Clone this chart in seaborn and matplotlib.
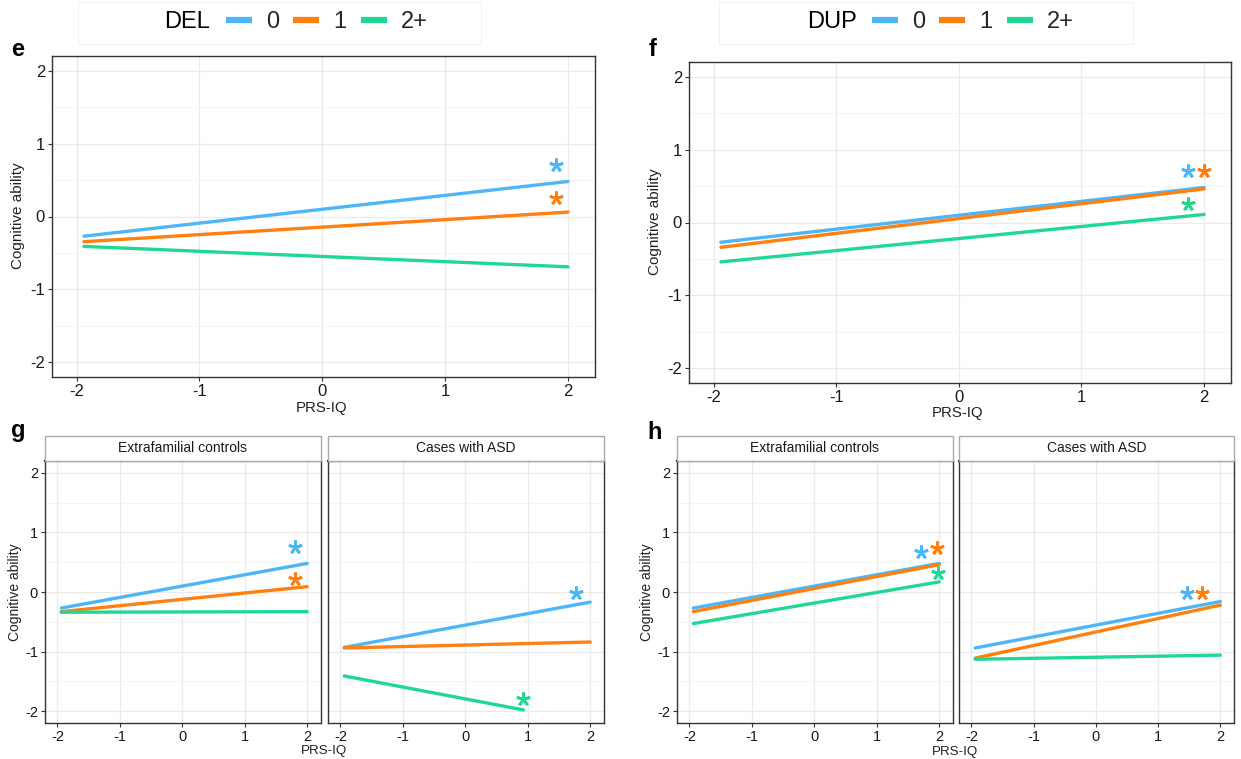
import matplotlib
matplotlib.use("Agg")
import numpy as np
import pandas as pd
import seaborn as sns
import matplotlib.pyplot as plt
from matplotlib.lines import Line2D
from matplotlib.patches import Rectangle

sns.set_theme(style="white")
plt.rcParams["font.family"] = ["Liberation Sans", "DejaVu Sans"]
plt.rcParams["axes.unicode_minus"] = False

# ---------------- data ----------------
groups = ["0", "1", "2+"]
colors = ["#4DB6F7", "#FF7F0F", "#1FD892"]
ticks = [-2, -1, 0, 1, 2]
tick_labels = ["-2", "-1", "0", "1", "2"]

x_start = [-1.94, -1.94, -1.94]
x_end = [2.0, 2.0, 2.0]

# panel e (DEL)
e_y0 = [-0.27, -0.345, -0.41]
e_y1 = [0.48, 0.06, -0.69]
e_star_grp = ["0", "1"]
e_star_x = [1.90, 1.90]
e_star_y = [0.70, 0.26]

# panel f (DUP)
f_y0 = [-0.27, -0.34, -0.54]
f_y1 = [0.48, 0.46, 0.11]
f_star_grp = ["0", "1", "2+"]
f_star_x = [1.87, 2.0, 1.87]
f_star_y = [0.71, 0.71, 0.26]

# panel g (DEL by cohort)
g_ctrl_y0 = [-0.27, -0.33, -0.34]
g_ctrl_y1 = [0.48, 0.09, -0.33]
g_ctrl_star_grp = ["0", "1"]
g_ctrl_star_x = [1.81, 1.81]
g_ctrl_star_y = [0.76, 0.22]
g_asd_y0 = [-0.93, -0.94, -1.41]
g_asd_y1 = [-0.17, -0.84, -1.98]
g_asd_x_end = [2.0, 2.0, 0.93]
g_asd_star_grp = ["0", "2+"]
g_asd_star_x = [1.77, 0.92]
g_asd_star_y = [-0.02, -1.79]

# panel h (DUP by cohort)
h_ctrl_y0 = [-0.27, -0.33, -0.53]
h_ctrl_y1 = [0.48, 0.46, 0.17]
h_ctrl_star_grp = ["0", "1", "2+"]
h_ctrl_star_x = [1.71, 1.97, 1.98]
h_ctrl_star_y = [0.68, 0.74, 0.32]
h_asd_y0 = [-0.94, -1.11, -1.13]
h_asd_y1 = [-0.16, -0.22, -1.06]
h_asd_star_grp = ["0", "1"]
h_asd_star_x = [1.46, 1.71]
h_asd_star_y = [-0.02, -0.02]

facet_labels = ["Extrafamilial controls", "Cases with ASD"]

palette = dict(zip(groups, colors))

W, H = 1241, 759
fig = plt.figure(figsize=(W / 100, H / 100), dpi=100)
fig.patch.set_facecolor("white")


def add_ax(l, t, r, b):
    return fig.add_axes([l / W, 1 - b / H, (r - l) / W, (b - t) / H])


def line_df(y0, y1, xe=x_end):
    rows = []
    for g, xs, a, xe_, b in zip(groups, x_start, y0, xe, y1):
        rows.append({"x": xs, "y": a, "grp": g})
        rows.append({"x": xe_, "y": b, "grp": g})
    return pd.DataFrame(rows)


def star_df(grp, xs, ys):
    return pd.DataFrame({"x": xs, "y": ys, "grp": grp})


def draw(ax, df, sdf, tick_fs, top_lw=1.0):
    ax.set_facecolor("white")
    ax.set_xlim(-2.2, 2.22)
    ax.set_ylim(-2.2, 2.2)
    for v in [-1.5, -0.5, 0.5, 1.5]:
        ax.axhline(v, color="#F3F3F3", lw=0.6, zorder=0)
    for v in ticks:
        ax.axhline(v, color="#EBEBEB", lw=1.0, zorder=0)
        ax.axvline(v, color="#EBEBEB", lw=1.0, zorder=0)
    sns.lineplot(data=df, x="x", y="y", hue="grp", palette=palette,
                 hue_order=groups, estimator=None, units="grp",
                 linewidth=2.4, legend=False, ax=ax, zorder=3)
    for _, r in sdf.iterrows():
        ax.plot([r["x"]], [r["y"]], marker=(5, 2, 0), ms=10, mew=2.0,
                color=palette[r["grp"]], linestyle="none", zorder=4)
    ax.set_xticks(ticks)
    ax.set_xticklabels(tick_labels)
    ax.set_yticks(ticks)
    ax.set_yticklabels(tick_labels)
    ax.tick_params(axis="both", length=3, width=0.8, color="#333333",
                   labelsize=tick_fs, labelcolor="#1A1A1A", pad=2,
                   direction="out", bottom=True, left=True)
    ax.set_xlabel("")
    ax.set_ylabel("")
    for s in ax.spines.values():
        s.set_color("#333333")
        s.set_linewidth(1.0)
    ax.spines["top"].set_linewidth(top_lw)


# panel e
ax_e = add_ax(52, 56, 595, 377)
draw(ax_e, line_df(e_y0, e_y1), star_df(e_star_grp, e_star_x, e_star_y), 12)
# panel f
ax_f = add_ax(689, 62, 1231, 383)
draw(ax_f, line_df(f_y0, f_y1), star_df(f_star_grp, f_star_x, f_star_y), 12)

# panel g
ax_g1 = add_ax(45, 461, 321, 723)
draw(ax_g1, line_df(g_ctrl_y0, g_ctrl_y1),
     star_df(g_ctrl_star_grp, g_ctrl_star_x, g_ctrl_star_y), 10.5, top_lw=1.6)
ax_g2 = add_ax(328, 461, 604, 723)
draw(ax_g2, line_df(g_asd_y0, g_asd_y1, g_asd_x_end),
     star_df(g_asd_star_grp, g_asd_star_x, g_asd_star_y), 10.5, top_lw=1.6)
ax_g2.set_yticklabels([])
ax_g2.tick_params(axis="y", length=0)

# panel h
ax_h1 = add_ax(677, 461, 953, 723)
draw(ax_h1, line_df(h_ctrl_y0, h_ctrl_y1),
     star_df(h_ctrl_star_grp, h_ctrl_star_x, h_ctrl_star_y), 10.5, top_lw=1.6)
ax_h2 = add_ax(959, 461, 1234, 723)
draw(ax_h2, line_df(h_asd_y0, h_asd_y1),
     star_df(h_asd_star_grp, h_asd_star_x, h_asd_star_y), 10.5, top_lw=1.6)
ax_h2.set_yticklabels([])
ax_h2.tick_params(axis="y", length=0)

# strips
for ax, lab in [(ax_g1, facet_labels[0]), (ax_g2, facet_labels[1]),
                (ax_h1, facet_labels[0]), (ax_h2, facet_labels[1])]:
    pos = ax.get_position()
    sh = 25 / H
    rect = Rectangle((pos.x0, pos.y1), pos.width, sh, transform=fig.transFigure,
                     facecolor="white", edgecolor="#AAAAAA", lw=1.0, zorder=1)
    fig.add_artist(rect)
    fig.text(pos.x0 + pos.width / 2, pos.y1 + sh / 2, lab, ha="center",
             va="center", fontsize=10, color="#1A1A1A")


def ftext(x, y, s, **kw):
    return fig.text(x / W, 1 - y / H, s, **kw)


# axis labels
ftext(322, 408, "PRS-IQ", ha="center", va="center", fontsize=10.8, color="#222222")
ftext(18, 216, "Cognitive ability", ha="center", va="center", rotation=90,
      fontsize=11, color="#222222")
ftext(958, 413, "PRS-IQ", ha="center", va="center", fontsize=10.8, color="#222222")
ftext(655, 222, "Cognitive ability", ha="center", va="center", rotation=90,
      fontsize=11, color="#222222")
ftext(324, 751, "PRS-IQ", ha="center", va="center", fontsize=9.6, color="#222222")
ftext(15, 592, "Cognitive ability", ha="center", va="center", rotation=90,
      fontsize=10, color="#222222")
ftext(955, 752, "PRS-IQ", ha="center", va="center", fontsize=9.6, color="#222222")
ftext(647, 592, "Cognitive ability", ha="center", va="center", rotation=90,
      fontsize=10, color="#222222")

# panel letters
for x, y, s in [(18, 50, "e"), (653, 50, "f"), (18, 431, "g"), (655, 432, "h")]:
    ftext(x, y, s, ha="center", va="center", fontsize=17, fontweight="bold",
          color="black")

# legends
handles = [Line2D([0], [0], color=c, lw=4.5, solid_capstyle="butt") for c in colors]
for (bx0, bx1, title_x, key_x, title) in [(78, 481, 187, 226, "DEL"),
                                          (719, 1133, 832, 872, "DUP")]:
    rect = Rectangle((bx0 / W, 1 - 44 / H), (bx1 - bx0) / W, 42 / H,
                     transform=fig.transFigure, facecolor="white",
                     edgecolor="#F2F2F2", lw=0.8)
    fig.add_artist(rect)
    ftext(title_x, 22, title, ha="center", va="center", fontsize=17,
          color="black")
    fig.legend(handles, groups, loc="center left",
               bbox_to_anchor=(key_x / W, 1 - 22 / H), ncol=3,
               frameon=False, fontsize=17, handlelength=1.1,
               handletextpad=0.6, columnspacing=0.6, borderpad=0,
               borderaxespad=0)

fig.savefig("out.png", dpi=100, facecolor="white")
